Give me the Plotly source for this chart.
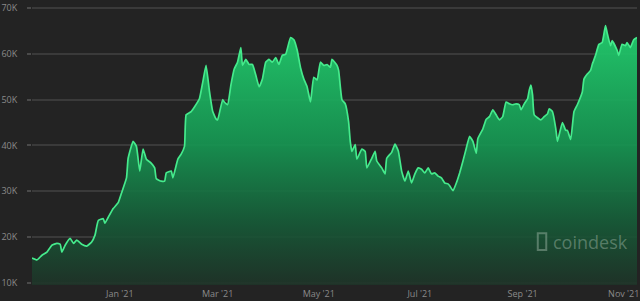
import plotly.graph_objects as go

dates = [
    "2020-11-09", "2020-11-12", "2020-11-15", "2020-11-18", "2020-11-21", "2020-11-24",
    "2020-11-26", "2020-11-27", "2020-11-29", "2020-12-02", "2020-12-04", "2020-12-06",
    "2020-12-09", "2020-12-12", "2020-12-15", "2020-12-17", "2020-12-19", "2020-12-22",
    "2020-12-23", "2020-12-25", "2020-12-28", "2020-12-31", "2021-01-02", "2021-01-05",
    "2021-01-06", "2021-01-09", "2021-01-11", "2021-01-13", "2021-01-15", "2021-01-17",
    "2021-01-20", "2021-01-22", "2021-01-23", "2021-01-26", "2021-01-28", "2021-01-29",
    "2021-02-01", "2021-02-02", "2021-02-05", "2021-02-07", "2021-02-09", "2021-02-10",
    "2021-02-13", "2021-02-15", "2021-02-18", "2021-02-20", "2021-02-22", "2021-02-24",
    "2021-02-26", "2021-02-28", "2021-03-01", "2021-03-04", "2021-03-05", "2021-03-07",
    "2021-03-09", "2021-03-11", "2021-03-13", "2021-03-15", "2021-03-16", "2021-03-18",
    "2021-03-20", "2021-03-22", "2021-03-24", "2021-03-26", "2021-03-28", "2021-03-30",
    "2021-04-01", "2021-04-03", "2021-04-05", "2021-04-07", "2021-04-09", "2021-04-11",
    "2021-04-14", "2021-04-16", "2021-04-18", "2021-04-20", "2021-04-22", "2021-04-24",
    "2021-04-26", "2021-04-28", "2021-04-30", "2021-05-02", "2021-05-04", "2021-05-06",
    "2021-05-08", "2021-05-09", "2021-05-12", "2021-05-13", "2021-05-15", "2021-05-17",
    "2021-05-19", "2021-05-20", "2021-05-21", "2021-05-23", "2021-05-24", "2021-05-27",
    "2021-05-29", "2021-05-30", "2021-06-02", "2021-06-04", "2021-06-05", "2021-06-08",
    "2021-06-10", "2021-06-11", "2021-06-14", "2021-06-16", "2021-06-18", "2021-06-20",
    "2021-06-22", "2021-06-24", "2021-06-26", "2021-06-28", "2021-06-30", "2021-07-02",
    "2021-07-04", "2021-07-06", "2021-07-08", "2021-07-10", "2021-07-12", "2021-07-14",
    "2021-07-16", "2021-07-18", "2021-07-19", "2021-07-21", "2021-07-23", "2021-07-25",
    "2021-07-27", "2021-07-29", "2021-07-31", "2021-08-02", "2021-08-04", "2021-08-05",
    "2021-08-08", "2021-08-10", "2021-08-12", "2021-08-14", "2021-08-16", "2021-08-18",
    "2021-08-20", "2021-08-22", "2021-08-24", "2021-08-26", "2021-08-28", "2021-08-30",
    "2021-08-31", "2021-09-02", "2021-09-04", "2021-09-05", "2021-09-06", "2021-09-07",
    "2021-09-08", "2021-09-12", "2021-09-14", "2021-09-16", "2021-09-17", "2021-09-19",
    "2021-09-21", "2021-09-22", "2021-09-25", "2021-09-27", "2021-09-28", "2021-09-30",
    "2021-10-02", "2021-10-04", "2021-10-07", "2021-10-08", "2021-10-10", "2021-10-12",
    "2021-10-13", "2021-10-15", "2021-10-17", "2021-10-19", "2021-10-21", "2021-10-22",
    "2021-10-24", "2021-10-25", "2021-10-28", "2021-10-29", "2021-10-31", "2021-11-02",
    "2021-11-03", "2021-11-05", "2021-11-07", "2021-11-09",
]

prices_k = [
    15.4, 15.0, 16.0, 16.7, 18.2, 18.6,
    18.4, 16.7, 18.2, 19.7, 18.6, 19.3,
    18.4, 18.0, 18.9, 20.4, 23.6, 24.0,
    23.0, 24.3, 26.2, 27.5, 29.6, 32.9,
    37.2, 40.9, 39.8, 34.4, 39.2, 37.0,
    36.1, 35.1, 32.7, 32.2, 32.2, 34.0,
    34.4, 32.9, 37.0, 38.1, 39.8, 46.7,
    47.4, 48.4, 50.2, 53.8, 57.5, 52.0,
    47.5, 45.8, 45.6, 50.0, 49.5, 48.9,
    53.2, 56.7, 58.2, 61.4, 57.5, 58.8,
    57.7, 57.7, 55.4, 52.8, 54.5, 58.2,
    58.8, 58.2, 59.2, 57.7, 59.7, 59.9,
    63.6, 63.1, 60.8, 57.0, 54.5, 52.8,
    49.5, 54.9, 54.3, 58.2, 57.5, 57.7,
    57.1, 58.8, 57.5, 56.4, 50.0, 49.1,
    45.2, 40.9, 38.7, 40.2, 37.0, 39.2,
    38.7, 35.1, 37.2, 38.7, 36.6, 35.1,
    33.8, 37.2, 38.5, 40.3, 38.8, 34.4,
    32.2, 34.4, 31.8, 33.8, 35.1, 34.8,
    34.0, 35.1, 33.8, 34.0, 33.3, 32.9,
    31.8, 31.6, 31.2, 30.1, 31.8, 34.0,
    36.6, 39.4, 42.0, 40.9, 38.3, 41.5,
    43.6, 45.7, 46.3, 47.8, 46.7, 45.6,
    46.3, 49.5, 49.1, 48.9, 49.1, 48.9,
    47.8, 49.1, 50.2, 52.1, 53.2, 51.0,
    46.7, 45.6, 46.3, 46.9, 48.0, 47.4,
    43.7, 40.9, 45.0, 43.3, 43.3, 41.3,
    47.4, 48.9, 51.7, 54.5, 55.6, 56.4,
    57.7, 59.7, 62.1, 62.5, 66.2, 64.6,
    61.8, 62.9, 60.8, 59.7, 62.1, 61.8,
    62.5, 61.4, 63.1, 63.6,
]

prices = [p * 1000 for p in prices_k]

y_ticks = [10000, 20000, 30000, 40000, 50000, 60000, 70000]
y_tick_labels = ["10K", "20K", "30K", "40K", "50K", "60K", "70K"]
x_ticks = ["2021-01-01", "2021-03-01", "2021-05-01", "2021-07-01", "2021-09-01", "2021-11-01"]
x_tick_labels = ["Jan '21", "Mar '21", "May '21", "Jul '21", "Sep '21", "Nov '21"]

BG = "#232323"
GRID = "#3a3a3a"
LABEL = "#8a8a8a"
MARK = "rgba(175,195,180,0.42)"

fig = go.Figure()
fig.add_trace(go.Scatter(
    x=dates, y=prices,
    mode="lines",
    line=dict(color="#45ea8c", width=1.7, shape="spline", smoothing=0.4),
    fill="tozeroy",
    fillgradient=dict(
        type="vertical",
        start=10000, stop=66000,
        colorscale=[
            [0.0, "rgba(30,50,39,0.88)"],
            [0.25, "rgba(22,92,56,0.9)"],
            [0.55, "rgba(22,150,82,0.92)"],
            [1.0, "rgba(34,206,110,0.95)"],
        ],
    ),
    hoverinfo="skip",
    showlegend=False,
))

fig.update_layout(
    width=640, height=301,
    margin=dict(l=32, r=3, t=1, b=15),
    paper_bgcolor=BG, plot_bgcolor=BG,
    font=dict(family="Open Sans, sans-serif", color=LABEL, size=9),
    xaxis=dict(
        type="date",
        range=[dates[0], dates[-1]],
        tickvals=x_ticks, ticktext=x_tick_labels,
        showgrid=False, zeroline=False, showline=False,
        tickfont=dict(size=9, color=LABEL),
        ticks="", ticklabelstandoff=2,
    ),
    yaxis=dict(
        range=[9500, 70700],
        tickvals=y_ticks, ticktext=y_tick_labels,
        showgrid=True, gridcolor=GRID, gridwidth=2,
        zeroline=False, showline=False,
        ticks="outside", ticklen=4, tickcolor="#4a4a4a", tickwidth=2,
        ticklabelstandoff=8, ticklabeloverflow="allow",
        tickfont=dict(size=9, color=LABEL),
    ),
    annotations=[dict(
        text="coindesk", xref="paper", yref="paper",
        x=0.988, y=0.155, xanchor="right", yanchor="middle",
        showarrow=False,
        font=dict(size=18, color=MARK, family="Open Sans, sans-serif"),
    )],
    shapes=[dict(
        type="rect", xref="paper", yref="paper",
        x0=0.836, x1=0.850, y0=0.125, y1=0.185,
        line=dict(color=MARK, width=2),
        fillcolor="rgba(0,0,0,0)",
    )],
)

fig.write_html("out.html")
